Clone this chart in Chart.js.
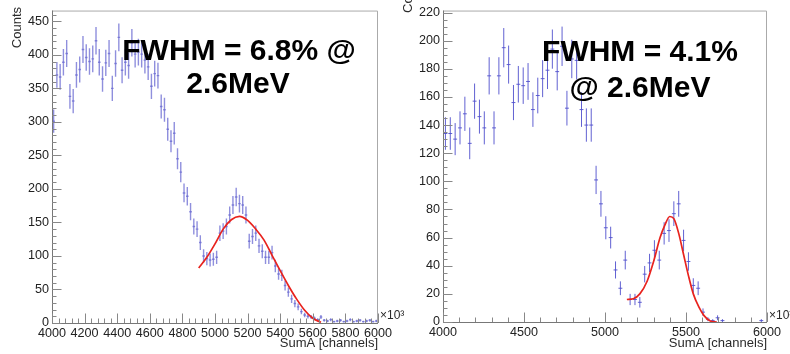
<!DOCTYPE html>
<html>
<head>
<meta charset="utf-8">
<script src="https://cdn.jsdelivr.net/npm/chart.js@4.4.1/dist/chart.umd.min.js"></script>
<style>
  html, body { margin: 0; padding: 0; background: #fff; }
  body { width: 790px; height: 354px; position: relative; overflow: hidden; }
  #caixaEsq { position: absolute; left: 0; top: 0; width: 410px; height: 354px; filter: blur(0.45px); }
  #caixaDir { position: absolute; left: 395px; top: 0; width: 395px; height: 354px; }
</style>
</head>
<body>
<div id="caixaEsq"><canvas id="graficoEsq"></canvas></div>
<div id="caixaDir"><canvas id="graficoDir"></canvas></div>
<script>
// histograma da esquerda: bins de 20 canais a partir de 4000
const binEsqInicio = 4000
const binEsqLargura = 20
const contagensEsq = [
  301, 370, 367, 389, 402, 338, 331, 370, 378, 408,
  396, 390, 394, 421, 389, 364, 388, 402, 350, 387,
  426, 377, 389, 384, 418, 401, 404, 401, 392, 382,
  353, 372, 369, 323, 318, 289, 271, 283, 245, 225,
  194, 189, 166, 144, 140, 120, 100, 96, 94, 95,
  98, 134, 137, 144, 161, 176, 188, 178, 176, 161,
  122, 129, 134, 115, 107, 98, 98, 105, 85, 73,
  71, 56, 46, 36, 29, 24, 17, 12, 10, 9,
  7, 5, 9, 4, 3, 5, 2, 3, 4, 2,
  3, 5, 2, 3, 4, 2, 3, 4, 2, 3
]
// curva do ajuste (esquerda)
const ajusteEsqX = [4900, 4950, 5000, 5050, 5100, 5150, 5200, 5250, 5300, 5350, 5400, 5450, 5500, 5550, 5600, 5650]
const ajusteEsqY = [82, 98, 118, 140, 154, 159, 153, 140, 124, 101, 78, 56, 36, 19, 7, 1]
const ticksEsqX = [4000, 4200, 4400, 4600, 4800, 5000, 5200, 5400, 5600, 5800, 6000]
const ticksEsqY = [0, 50, 100, 150, 200, 250, 300, 350, 400, 450]

// histograma da direita: bins de 30 canais
const binDirInicio = 4000
const binDirLargura = 30
const contagensDir = [
  134, 134, 130, 138, 148, 127, 157, 146, 138, 175,
  138, 175, 195, 183, 156, 169, 168, 171, 151, 161,
  173, 179, 194, 178, 196, 152, 187, 186, 151, 140,
  140, 101, 84, 67, 60, 37, 24, 44, 16, 16,
  14, 34, 42, 51, 44, 63, 65, 77, 84, 58,
  43, 26, 24, 7, 2, 1, 3, 1, 0, 0,
  0, 0, 0, 0, 0, 1
]
const ajusteDirX = [5135, 5175, 5215, 5260, 5300, 5340, 5370, 5400, 5425, 5455, 5485, 5515, 5545, 5580, 5610, 5650, 5690]
const ajusteDirY = [16, 16.5, 20, 29, 43, 60, 69, 75, 73.5, 63, 48, 33, 20, 10.5, 4.7, 0.7, 0]
const ticksDirX = [4000, 4500, 5000, 5500, 6000]
const ticksDirY = [0, 20, 40, 60, 80, 100, 120, 140, 160, 180, 200, 220]

const fonteEixo = { family: 'Liberation Sans, Arial, sans-serif', size: 12.6 }

// barras de erro (sqrt N) em segmentos separados por null
function barrasVerticais(inicio, largura, contagens) {
  const pts = []
  contagens.forEach((n, i) => {
    if (n <= 0) return
    const c = inicio + largura * (i + 0.5)
    const e = Math.sqrt(n)
    pts.push({ x: c, y: n - e }, { x: c, y: n + e }, { x: c, y: null })
  })
  return pts
}

function barrasHorizontais(inicio, largura, contagens) {
  const pts = []
  contagens.forEach((n, i) => {
    if (n <= 0) return
    const c = inicio + largura * (i + 0.5)
    pts.push({ x: c - largura * 0.4, y: n }, { x: c + largura * 0.4, y: n }, { x: c, y: null })
  })
  return pts
}

function curva(xs, ys) {
  return xs.map((x, i) => ({ x: x, y: ys[i] }))
}

// moldura, ticks internos estilo ROOT e textos
function moldura(cfg) {
  return {
    id: 'moldura',
    afterDatasetsDraw(chart) {
      const ctx = chart.ctx
      const a = chart.chartArea
      const sx = chart.scales.x
      const sy = chart.scales.y
      ctx.save()
      ctx.lineWidth = 1
      ctx.strokeStyle = '#aaa'
      ctx.beginPath()
      ctx.moveTo(a.left, a.top + 0.5)
      ctx.lineTo(a.right - 0.5, a.top + 0.5)
      ctx.lineTo(a.right - 0.5, a.bottom)
      ctx.stroke()

      ctx.strokeStyle = '#777'
      ctx.beginPath()
      ctx.moveTo(a.left + 0.5, a.top)
      ctx.lineTo(a.left + 0.5, a.bottom + 0.5)
      ctx.lineTo(a.right, a.bottom + 0.5)
      ctx.stroke()

      ctx.strokeStyle = '#888'
      ctx.beginPath()
      for (let v = sx.min; v <= sx.max + 0.01; v += cfg.menorX) {
        const px = Math.round(sx.getPixelForValue(v)) + 0.5
        const maior = Math.abs((v - sx.min) % cfg.maiorX) < 0.01
        ctx.moveTo(px, a.bottom)
        ctx.lineTo(px, a.bottom - (maior ? 9.5 : 4.5))
      }
      for (let v = sy.min; v <= sy.max + 0.01; v += cfg.menorY) {
        const py = Math.round(sy.getPixelForValue(v)) + 0.5
        const maior = Math.abs(v % cfg.maiorY) < 0.01
        ctx.moveTo(a.left, py)
        ctx.lineTo(a.left + (maior ? 9.5 : 4.5), py)
      }
      ctx.stroke()

      ctx.fillStyle = '#2a2a2a'
      ctx.font = '13px Liberation Sans, Arial, sans-serif'
      ctx.textBaseline = 'middle'
      // titulo do eixo y
      ctx.save()
      ctx.translate(cfg.countsX, cfg.countsY)
      ctx.rotate(-Math.PI / 2)
      ctx.textAlign = cfg.countsAlinha
      ctx.fillText('Counts', 0, 0)
      ctx.restore()
      // titulo do eixo x
      ctx.textAlign = 'right'
      ctx.fillText('SumA [channels]', a.right, 343)
      ctx.textAlign = 'left'
      ctx.font = '12px Liberation Sans, Arial, sans-serif'
      ctx.fillText('\u00d710\u00b3', a.right + 2, 316)

      // anotacao da resolucao
      ctx.fillStyle = '#000'
      ctx.textAlign = 'center'
      ctx.font = 'bold 30px Liberation Sans, Arial, sans-serif'
      cfg.linhas.forEach(l => ctx.fillText(l.texto, l.x, l.y))
      ctx.restore()
    }
  }
}

function montaGrafico(id, d) {
  return new Chart(document.getElementById(id), {
    type: 'scatter',
    data: {
      datasets: [
        {
          data: curva(d.ajusteX, d.ajusteY),
          showLine: true,
          borderColor: '#e8231e',
          borderWidth: 1.7,
          pointRadius: 0,
          cubicInterpolationMode: 'monotone'
        },
        {
          data: barrasVerticais(d.inicio, d.largura, d.contagens),
          showLine: true,
          spanGaps: false,
          borderColor: d.cor,
          borderWidth: d.espessura,
          pointRadius: 0
        },
        {
          data: barrasHorizontais(d.inicio, d.largura, d.contagens),
          showLine: true,
          spanGaps: false,
          borderColor: d.cor,
          borderWidth: d.espessura,
          pointRadius: 0
        }
      ]
    },
    options: {
      responsive: true,
      maintainAspectRatio: false,
      animation: false,
      devicePixelRatio: 1,
      layout: { padding: { top: 6, right: d.padDir, left: 0, bottom: 0 } },
      plugins: { legend: { display: false }, tooltip: { enabled: false } },
      scales: {
        x: {
          type: 'linear',
          min: 4000,
          max: 6000,
          afterBuildTicks: s => { s.ticks = d.ticksX.map(v => ({ value: v })) },
          afterFit: s => { s.height = d.altX },
          ticks: { padding: 3, maxRotation: 0, autoSkip: false, color: '#222', font: fonteEixo, callback: v => String(v) },
          grid: { display: false, drawTicks: false },
          border: { display: false }
        },
        y: {
          type: 'linear',
          min: 0,
          max: d.maxY,
          afterBuildTicks: s => { s.ticks = d.ticksY.map(v => ({ value: v })) },
          afterFit: s => { s.width = d.largY },
          ticks: { padding: 3, autoSkip: false, color: '#222', font: fonteEixo, callback: v => String(v) },
          grid: { display: false, drawTicks: false },
          border: { display: false }
        }
      }
    },
    plugins: [moldura(d.moldura)]
  })
}

montaGrafico('graficoEsq', {
  inicio: binEsqInicio, largura: binEsqLargura, contagens: contagensEsq,
  ajusteX: ajusteEsqX, ajusteY: ajusteEsqY,
  ticksX: ticksEsqX, ticksY: ticksEsqY,
  cor: 'rgba(105,105,210,0.75)', espessura: 1.4,
  maxY: 466, padDir: 32, altX: 31, largY: 52,
  moldura: {
    menorX: 40, maiorX: 200, menorY: 10, maiorY: 50,
    countsX: 17, countsY: 7, countsAlinha: 'right',
    linhas: [{ texto: 'FWHM = 6.8% @', x: 239, y: 52 }, { texto: '2.6MeV', x: 238, y: 85 }]
  }
})

montaGrafico('graficoDir', {
  inicio: binDirInicio, largura: binDirLargura, contagens: contagensDir,
  ajusteX: ajusteDirX, ajusteY: ajusteDirY,
  ticksX: ticksDirX, ticksY: ticksDirY,
  cor: 'rgba(80,80,205,0.9)', espessura: 1,
  maxY: 221.4, padDir: 23, altX: 32, largY: 48,
  moldura: {
    menorX: 100, maiorX: 500, menorY: 5, maiorY: 20,
    countsX: 13.5, countsY: 13, countsAlinha: 'left',
    linhas: [{ texto: 'FWHM = 4.1%', x: 245, y: 53 }, { texto: '@ 2.6MeV', x: 245, y: 89 }]
  }
})
</script>
</body>
</html>
